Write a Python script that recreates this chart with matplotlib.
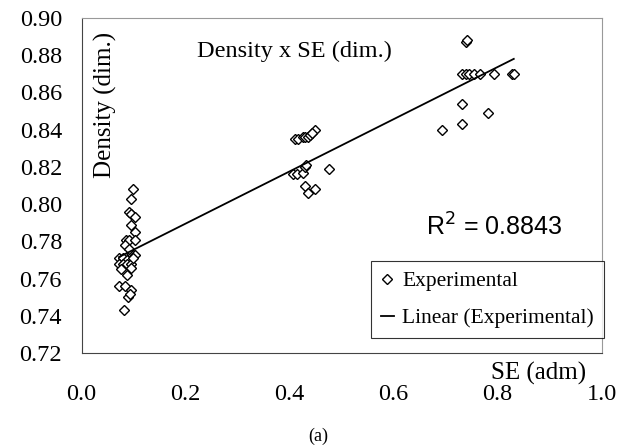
import numpy as np
import matplotlib.pyplot as plt

# SE (adm) vs density readings, three groups
se_low = [0.081, 0.099, 0.095, 0.091, 0.095, 0.102, 0.095, 0.102, 0.086, 0.091,
          0.102, 0.083, 0.095, 0.102, 0.072, 0.080, 0.087, 0.072, 0.080, 0.087,
          0.095, 0.076, 0.095, 0.087, 0.072, 0.083, 0.095, 0.089, 0.093, 0.099,
          0.091]
dens_low = [0.743, 0.808, 0.803, 0.796, 0.795, 0.793, 0.789, 0.785, 0.781, 0.781,
            0.781, 0.778, 0.774, 0.773, 0.771, 0.771, 0.770, 0.768, 0.768, 0.768,
            0.768, 0.765, 0.766, 0.762, 0.756, 0.756, 0.754, 0.750, 0.752, 0.771,
            0.776]

se_mid = [0.410, 0.417, 0.425, 0.430, 0.436, 0.440, 0.448, 0.444, 0.406, 0.415,
          0.425, 0.429, 0.432, 0.476, 0.429, 0.436, 0.448]
dens_mid = [0.835, 0.835, 0.836, 0.836, 0.836, 0.837, 0.840, 0.838, 0.816, 0.816,
            0.817, 0.820, 0.821, 0.819, 0.810, 0.806, 0.808]

se_high = [0.740, 0.742, 0.731, 0.740, 0.744, 0.755, 0.766, 0.793, 0.827, 0.831,
           0.731, 0.731, 0.693, 0.781]
dens_high = [0.887, 0.888, 0.870, 0.870, 0.870, 0.870, 0.870, 0.870, 0.870, 0.870,
             0.854, 0.843, 0.840, 0.849]

x_ticks = [0.0, 0.2, 0.4, 0.6, 0.8, 1.0]
y_ticks = [0.72, 0.74, 0.76, 0.78, 0.80, 0.82, 0.84, 0.86, 0.88, 0.90]
r2_label = "R$^2$ = 0.8843"

se = np.array(se_low + se_mid + se_high)
dens = np.array(dens_low + dens_mid + dens_high)

serif = "Liberation Serif"

fig = plt.figure(figsize=(6.2, 4.46), dpi=100)
ax = fig.add_axes([81.5 / 620, 1 - 353.3 / 446, 520.2 / 620, 335.5 / 446])

ax.plot(se, dens, linestyle="none", marker="D", ms=5, mfc="white", mec="black",
        mew=1.0, label="Experimental")

coef = np.polyfit(se, dens, 1)
xf = np.array([se.min(), se.max()])
ax.plot(xf, np.polyval(coef, xf), color="black", lw=1.3,
        label="Linear (Experimental)")

ax.set_xlim(0, 1.0)
ax.set_ylim(0.72, 0.90)
ax.set_xticks(x_ticks)
ax.set_yticks(y_ticks)
ax.set_xticklabels([f"{v:.1f}" for v in x_ticks], family=serif, fontsize=17.5)
ax.set_yticklabels([f"{v:.2f}" for v in y_ticks], family=serif, fontsize=17.5)
ax.tick_params(axis="x", length=0, pad=22)
ax.tick_params(axis="y", length=0, pad=14)

for s in ["left", "bottom"]:
    ax.spines[s].set_color("#444444")
for s in ["top", "right"]:
    ax.spines[s].set_color("#999999")

ax.text(0.41, 0.882, "Density x SE (dim.)", family=serif, fontsize=17.5,
        ha="center", va="center")
ax.text(0.046, 0.853, "Density (dim.)", family=serif, fontsize=18,
        ha="center", va="center", rotation=90)
ax.text(0.793, 0.788, r2_label, family="Liberation Sans", fontsize=18,
        ha="center", va="center")

leg = ax.legend(loc="upper right", bbox_to_anchor=(1.004, 0.274),
                prop={"family": serif, "size": 15.5}, frameon=True, fancybox=False,
                edgecolor="black", handlelength=0.6, handletextpad=0.4,
                borderpad=0.45, labelspacing=0.8, borderaxespad=0)
leg.get_frame().set_linewidth(0.8)

fig.text(539 / 620, 1 - 373 / 446, "SE (adm)", family=serif, fontsize=18,
         ha="center", va="center")
fig.text(318 / 620, 1 - 436 / 446, "(a)", family=serif, fontsize=13,
         ha="center", va="center")

fig.savefig("out.png", dpi=100)
